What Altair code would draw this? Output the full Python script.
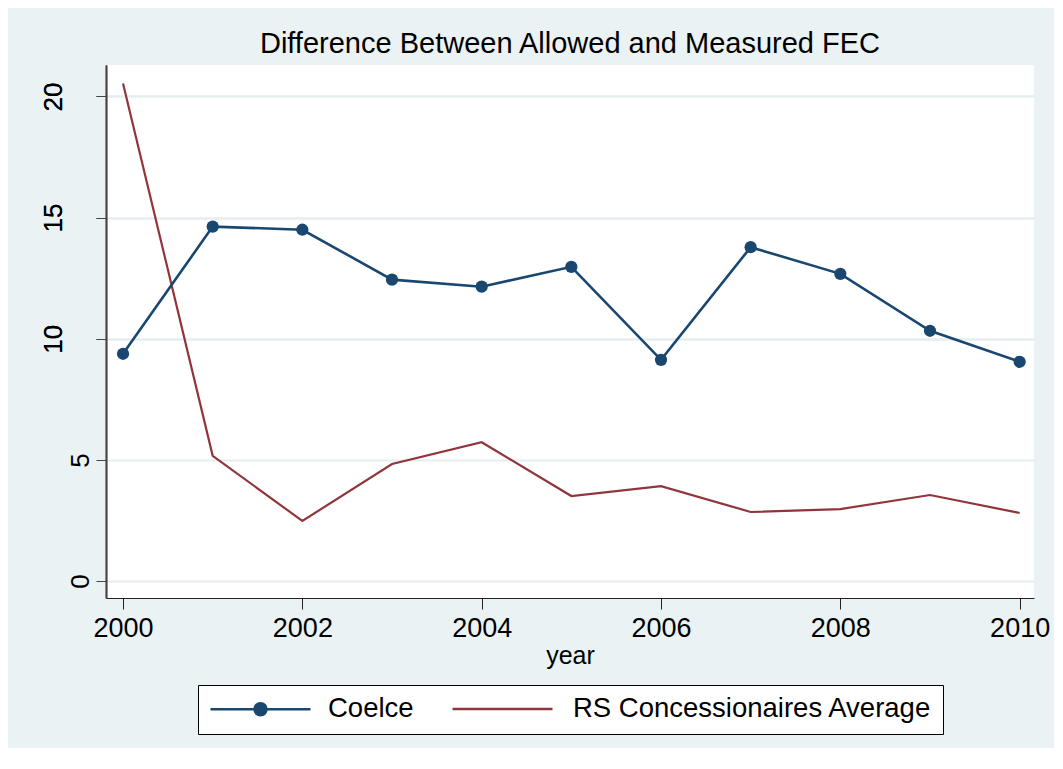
import altair as alt
import pandas as pd

years = [2000, 2001, 2002, 2003, 2004, 2005, 2006, 2007, 2008, 2009, 2010]
coelce = [9.38, 14.63, 14.50, 12.44, 12.15, 12.97, 9.13, 13.78, 12.68, 10.33, 9.05]
rs_avg = [20.54, 5.17, 2.48, 4.83, 5.73, 3.51, 3.92, 2.85, 2.97, 3.55, 2.81]
series_names = ["Coelce", "RS Concessionaires Average"]
series_colors = ["#1A476F", "#90353B"]
x_ticks = [2000, 2002, 2004, 2006, 2008, 2010]
y_ticks_short = [0, 5]
y_ticks_long = [10, 15, 20]

df_c = pd.DataFrame({"year": years, "value": coelce, "series": series_names[0]})
df_r = pd.DataFrame({"year": years, "value": rs_avg, "series": series_names[1]})

FONT = "Liberation Sans"

x_enc = alt.X(
    "year:Q",
    scale=alt.Scale(domain=[1999.81, 2010.16], nice=False, zero=False),
    axis=alt.Axis(
        values=x_ticks, format="d", title="year", grid=False,
        tickSize=11, tickColor="#222", domainColor="#222", domainWidth=1.2,
        labelFontSize=27, labelPadding=6, labelColor="#000",
        titleFontSize=25, titleFontWeight="normal", titlePadding=2, titleColor="#000",
        labelFont=FONT, titleFont=FONT,
    ),
)
y_scale = alt.Scale(domain=[-0.7, 21.3], nice=False, zero=False)


def y_axis(vals, pad):
    return alt.Axis(
        values=vals, title=None, orient="left", grid=True, gridColor="#E6EEF0", gridWidth=2.2,
        tickSize=10, tickColor="#444", domainColor="#444", domainWidth=1.5,
        labelFontSize=26, labelAngle=270, labelAlign="center",
        labelBaseline="bottom", labelPadding=pad, labelColor="#000", labelFont=FONT,
    )


y_short = alt.Y("value:Q", scale=y_scale, axis=y_axis(y_ticks_short, 3))
y_long = alt.Y("value:Q", scale=y_scale, axis=y_axis(y_ticks_long, 30))

legend_path = "M-1,0L1,0M-0.12,0A0.12,0.12,0,1,1,0.12,0A0.12,0.12,0,1,1,-0.12,0Z"

# Coelce scale carries both legend entries; the second colour is transparent so
# only its label shows, and the RS stroke legend draws the plain line symbol.
c_scale = alt.Scale(domain=series_names, range=[series_colors[0], "transparent"])
r_scale = alt.Scale(domain=[series_names[1]], range=[series_colors[1]])

c_legend = alt.Legend(
    title=None, orient="none", legendX=92, legendY=620, direction="horizontal",
    symbolType=legend_path, symbolSize=10000, symbolStrokeWidth=2.5, clipHeight=26,
    labelFontSize=27.5, labelFont=FONT, labelColor="#000", labelOffset=16, labelLimit=2000,
    columnPadding=40, padding=11, strokeColor="#000", fillColor="#FFFFFF", zindex=1,
)
r_legend = alt.Legend(
    title=None, orient="none", legendX=345, legendY=631, direction="horizontal",
    symbolType="stroke", symbolSize=10000, symbolStrokeWidth=2.5, clipHeight=26,
    symbolStrokeColor=series_colors[1],
    labelFontSize=27.5, labelFont=FONT, labelExpr="''", labelOffset=0,
    padding=0, zindex=2,
)

r_line = alt.Chart(df_r).mark_line(strokeWidth=2.2).encode(
    x=x_enc, y=y_short, stroke=alt.Stroke("series:N", scale=r_scale, legend=r_legend),
)
c_line = alt.Chart(df_c).mark_line(strokeWidth=2.6).encode(
    x=x_enc, y=y_long, color=alt.Color("series:N", scale=c_scale, legend=c_legend),
)
c_pts = alt.Chart(df_c).mark_point(filled=True, size=150, opacity=1).encode(
    x=x_enc, y=y_long, color=alt.Color("series:N", scale=c_scale, legend=c_legend),
)

chart = alt.layer(r_line, c_line, c_pts).resolve_scale(y="shared").resolve_axis(
    y="independent"
).properties(
    width=928, height=533,
    title=alt.TitleParams(
        "Difference Between Allowed and Measured FEC", fontSize=29, font=FONT,
        fontWeight="normal", color="#000", anchor="middle", offset=9, baseline="alphabetic",
        dy=26,
    ),
    background="#EAF2F3",
    padding={"left": 98, "top": 57, "right": 20, "bottom": 150},
    autosize=alt.AutoSizeParams(type="none"),
).configure_view(fill="#FFFFFF", stroke=None)

chart.save("out.html", embed_options={"renderer": "svg", "actions": False})
